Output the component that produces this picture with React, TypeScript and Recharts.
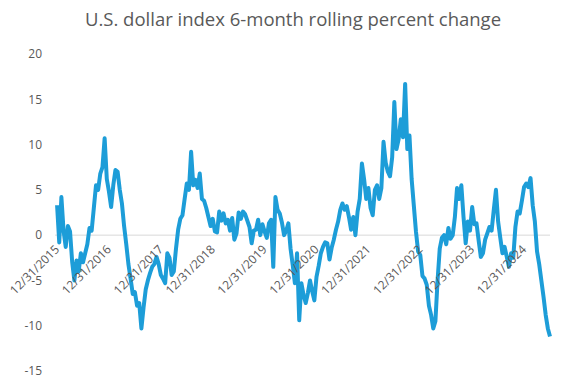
import { LineChart, Line, XAxis, YAxis, ReferenceLine } from 'recharts'

// tick labels along the zero line (one per year end)
const tickLabels = [
  '12/31/2015', '12/31/2016', '12/31/2017', '12/31/2018', '12/31/2019',
  '12/31/2020', '12/31/2021', '12/31/2022', '12/31/2023', '12/31/2024'
]

const from2015 = [3.3, -0.8, 4.2, 0.5, -1.3, 1.0, 0.4, -3.0, -5.0, -2.8, -4.0, -2.0, -3.0, -2.0, -1.0, 0.8, 0.5, 3.0, 5.5, 5.0, 6.8, 7.5, 10.7, 6.2]
const from2016 = [4.8, 3.1, 5.5, 7.2, 7.0, 5.0, 3.5, 1.0, -1.0, -3.2, -4.8, -6.5, -6.3, -7.8, -7.5, -10.3, -8.0, -6.0, -5.0, -4.2, -3.5, -3.2, -2.4, -3.2]
const from2017 = [-4.4, -4.8, -5.3, -2.0, -2.5, -4.4, -4.0, -1.5, 0.6, 1.8, 2.2, 4.0, 5.7, 5.0, 9.2, 5.5, 6.1, 5.2, 6.8, 4.0, 3.8, 3.0, 2.0, 1.0]
const from2018 = [1.8, 0.4, 0.3, 2.6, 1.6, 2.4, 1.3, 1.7, 0.5, 1.9, -0.5, 0.2, 2.5, 1.8, 2.6, 2.3, 1.6, 0.9, -0.9, 0.5, 0.6, 1.7, 0.0, 1.2]
const from2019 = [0.4, -0.3, 1.3, 1.7, -3.5, 4.2, 2.8, 2.4, 1.4, 0.0, 0.5, 1.3, -1.5, -3.3, -5.3, -2.0, -9.4, -5.3, -6.6, -7.5, -6.4, -5.0, -6.2, -7.2]
const from2020 = [-4.6, -3.4, -2.0, -1.3, -0.8, -0.9, -2.7, -1.4, -0.5, 0.6, 1.5, 2.8, 3.5, 2.8, 3.2, 2.0, 0.6, 2.0, 0.0, 2.6, 4.0, 7.9, 6.2, 4.0]
const from2021 = [5.2, 3.0, 2.2, 5.0, 5.5, 4.0, 5.2, 10.3, 8.0, 7.0, 6.5, 8.6, 14.7, 9.5, 10.6, 12.8, 10.8, 16.7, 9.5, 11.0, 6.2, 3.3, 0.4, -1.8]
const from2022 = [-2.2, -4.5, -4.8, -5.5, -7.8, -8.8, -10.3, -9.5, -5.0, -1.5, -0.3, 0.0, -1.0, 0.8, -0.4, 0.0, 2.0, 5.2, 4.0, 5.5, 2.0, -0.9, 1.5, 0.5]
const from2023 = [3.1, 1.2, 1.3, -0.6, -2.4, -2.0, -0.5, 0.2, 0.9, 0.5, 2.8, 5.0, 1.5, -0.3, -2.0, -1.3, -2.4, -3.5, -2.0, -2.5, 0.9, 2.6, 2.4, 3.8]
const from2024 = [5.3, 5.7, 5.3, 6.3, 3.3, 1.5, -1.8, -3.2, -5.0, -6.8, -8.8, -10.3, -11.2]

const yTicks = [-15, -10, -5, 0, 5, 10, 15, 20]

const Y_MIN = -15
const Y_MAX = 20
const PLOT_TOP = 54
const PLOT_BOTTOM = 371
const GREY = '#595959'

const data = [from2015, from2016, from2017, from2018, from2019, from2020, from2021, from2022, from2023, from2024]
  .flatMap((vals, year) => vals.map((v, i) => ({ t: year + i / 24, v })))

// Excel puts the date labels where the axis crosses 0, not at the bottom
function DateTick({ x, payload }: { x: number; payload: { value: number } }) {
  const zeroY = PLOT_TOP + ((PLOT_BOTTOM - PLOT_TOP) * Y_MAX) / (Y_MAX - Y_MIN)
  return (
    <g transform={`translate(${x + 3},${zeroY + 15})`}>
      <text textAnchor="end" transform="rotate(-45)" fontSize={12} fill={GREY}>
        {tickLabels[payload.value]}
      </text>
    </g>
  )
}

export default function App() {
  return (
    <div
      style={{
        margin: -8,
        width: 586,
        height: 391,
        position: 'relative',
        background: '#fff',
        fontFamily: '"Open Sans", "Noto Sans", sans-serif'
      }}
    >
      <div
        style={{
          position: 'absolute',
          top: 6,
          left: 0,
          width: 586,
          textAlign: 'center',
          fontSize: 18.5,
          color: GREY
        }}
      >
        U.S. dollar index 6-month rolling percent change
      </div>
      <LineChart width={586} height={391} data={data} margin={{ top: PLOT_TOP, right: 36, bottom: 19, left: 10 }}>
        <XAxis
          dataKey="t"
          type="number"
          domain={[-0.04, 9.5]}
          ticks={[0, 1, 2, 3, 4, 5, 6, 7, 8, 9]}
          interval={0}
          height={1}
          axisLine={false}
          tickLine={false}
          tick={DateTick as any}
        />
        <YAxis
          domain={[Y_MIN, Y_MAX]}
          ticks={yTicks}
          width={45}
          axisLine={false}
          tickLine={false}
          tickMargin={7}
          tick={{ fontSize: 12, fill: GREY }}
        />
        <ReferenceLine y={0} stroke="#d9d9d9" strokeWidth={1} />
        <Line
          type="linear"
          dataKey="v"
          stroke="#1d9dd8"
          strokeWidth={4}
          strokeLinejoin="round"
          dot={false}
          isAnimationActive={false}
        />
      </LineChart>
    </div>
  )
}
